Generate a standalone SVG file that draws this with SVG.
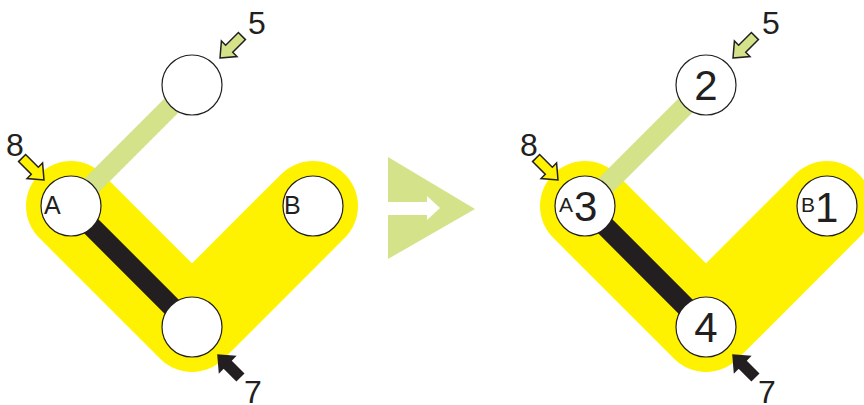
<svg xmlns="http://www.w3.org/2000/svg" width="864" height="405" viewBox="0 0 864 405">
  <style>
    .band { fill: none; stroke: #fff200; stroke-width: 90; stroke-linecap: round; stroke-linejoin: round; }
    .edge-green { stroke: #d4e38a; stroke-width: 20; }
    .edge-black { stroke: #231f20; stroke-width: 20; }
    .node { fill: #ffffff; stroke: #231f20; stroke-width: 1.2; }
    .txt { font-family: "Liberation Sans", Arial, sans-serif; fill: #231f20; }
    .lbl { font-size: 32px; }
    .small { font-size: 25px; }
    .big { font-size: 42px; }
    .ptr { stroke: #231f20; stroke-width: 1.5; stroke-linejoin: miter; }
  </style>
  <defs>
    <!-- block arrow, tip at origin, pointing along +x -->
    <path id="ptr" d="M0,0 L-13,-11 L-13,-5 L-31,-5 L-31,5 L-13,5 L-13,11 Z"/>
  </defs>

  <!-- left panel -->
  <g id="left">
    <path class="band" d="M71,206 L192,327 L313,206"/>
    <g id="left-connectors">
      <line class="edge-green" x1="192" y1="85" x2="71" y2="206"/>
      <line class="edge-black" x1="71" y1="206" x2="192" y2="327"/>
    </g>
    <g id="left-top"><circle class="node" cx="192" cy="85" r="30"/></g>
    <g id="left-a">
      <circle class="node" cx="71" cy="206" r="30"/>
      <text class="txt small" x="44" y="214">A</text>
    </g>
    <g id="left-b">
      <circle class="node" cx="313" cy="206" r="30"/>
      <text class="txt small" x="284" y="214">B</text>
    </g>
    <g id="left-bottom"><circle class="node" cx="192" cy="327" r="30"/></g>
    <g id="left-pointers">
      <use href="#ptr" class="ptr" fill="#d4e38a" transform="translate(220,58) rotate(135)"/>
      <use href="#ptr" class="ptr" fill="#fff200" transform="translate(44,180) rotate(45)"/>
      <use href="#ptr" class="ptr" fill="#231f20" transform="translate(218,355) rotate(-135)"/>
      <text class="txt lbl" x="248" y="34">5</text>
      <text class="txt lbl" x="6" y="156">8</text>
      <text class="txt lbl" x="244" y="403">7</text>
    </g>
  </g>

  <!-- transition arrow -->
  <g id="transition">
    <path d="M388,157 L475,209 L388,259 Z M388,202 L427,202 L427,196 L440,208 L427,220 L427,215 L388,215 Z" fill="#d4e38a" fill-rule="evenodd"/>
  </g>

  <!-- right panel -->
  <g id="right">
    <path class="band" d="M585,206 L706,327 L827,206"/>
    <g id="right-connectors">
      <line class="edge-green" x1="706" y1="85" x2="585" y2="206"/>
      <line class="edge-black" x1="585" y1="206" x2="706" y2="327"/>
    </g>
    <g id="right-top">
      <circle class="node" cx="706" cy="85" r="30"/>
      <text class="txt big" x="706" y="100" text-anchor="middle">2</text>
    </g>
    <g id="right-a">
      <circle class="node" cx="585" cy="206" r="30"/>
      <text class="txt" x="559" y="212" font-size="21">A</text>
      <text class="txt big" x="574" y="221">3</text>
    </g>
    <g id="right-b">
      <circle class="node" cx="827" cy="206" r="30"/>
      <text class="txt" x="801" y="212" font-size="21">B</text>
      <text class="txt big" x="815" y="222">1</text>
    </g>
    <g id="right-bottom">
      <circle class="node" cx="706" cy="327" r="30"/>
      <text class="txt big" x="706" y="342" text-anchor="middle">4</text>
    </g>
    <g id="right-pointers">
      <use href="#ptr" class="ptr" fill="#d4e38a" transform="translate(733,58) rotate(135)"/>
      <use href="#ptr" class="ptr" fill="#fff200" transform="translate(558,180) rotate(45)"/>
      <use href="#ptr" class="ptr" fill="#231f20" transform="translate(733,355) rotate(-135)"/>
      <text class="txt lbl" x="762" y="34">5</text>
      <text class="txt lbl" x="520" y="156">8</text>
      <text class="txt lbl" x="758" y="403">7</text>
    </g>
  </g>
</svg>
